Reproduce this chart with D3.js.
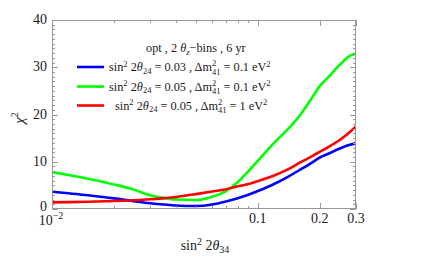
<!DOCTYPE html>
<html><head><meta charset="utf-8">
<script src="https://cdn.jsdelivr.net/npm/d3@7"></script>
<style>body{margin:0;background:#fff} svg{display:block} text{font-family:"Liberation Serif","Times New Roman","DejaVu Serif",serif}</style>
</head><body><svg id="c" width="421" height="264"></svg>
<script>
// data
const sin2_2th34 = [0.01,0.012,0.015,0.02,0.025,0.03,0.035,0.04,0.05,0.06,0.07,0.08,0.09,0.1,0.12,0.14,0.16,0.18,0.2,0.22,0.25,0.28,0.3];
const chi2Blue  = [3.65,3.35,2.9,2.25,1.65,1.2,0.95,0.75,0.62,0.95,1.6,2.3,3.0,3.8,5.3,6.8,8.3,9.6,10.9,11.7,12.8,13.6,13.9];
const chi2Green = [7.8,7.2,6.4,5.2,4.1,2.9,2.3,2.0,1.9,2.6,3.8,5.7,8.0,10.2,14.0,16.9,19.8,23.0,26.0,27.9,30.5,32.4,32.9];
const chi2Red   = [1.4,1.45,1.55,1.7,1.85,2.05,2.3,2.55,3.15,3.7,4.2,4.8,5.3,5.9,7.1,8.4,9.8,11.0,12.1,13.1,14.6,16.3,17.5];
const yMajorTicks = [0,10,20,30,40];
const xMajorTicks = [0.01,0.1,0.2,0.3];
const xTickLabels = ["10","0.1","0.2","0.3"];
const xMinorTicks = [0.02,0.03,0.04,0.05,0.06,0.07,0.08,0.09];
const seriesColors = ["#0000ff","#00ff00","#ff0000"];

const svg = d3.select("#c");
const L=52, R=356, T=20, B=209;
const x = d3.scaleLog().domain([0.01,0.3]).range([L,R]);
const y = d3.scaleLinear().domain([0,40]).range([B,T]);
const frame = "#999";
const txt = "#1a1a1a";

// curves
const line = d3.line().x(d=>x(d[0])).y(d=>y(d[1])).curve(d3.curveMonotoneX);
const series = [chi2Blue, chi2Green, chi2Red];
const g = svg.append("g");
g.append("clipPath").attr("id","clip").append("rect").attr("x",L).attr("y",T).attr("width",R-L).attr("height",B-T);
series.forEach((vals,i)=>{
  g.append("path").datum(sin2_2th34.map((v,j)=>[v,vals[j]]))
   .attr("d",line).attr("fill","none").attr("stroke",seriesColors[i])
   .attr("stroke-width",2.6).attr("clip-path","url(#clip)");
});

// frame
svg.append("rect").attr("x",L+0.5).attr("y",T+0.5).attr("width",R-L-1).attr("height",B-T-1)
  .attr("fill","none").attr("stroke",frame).attr("stroke-width",1);

const ticks = svg.append("g").attr("stroke",frame).attr("stroke-width",1);
// y ticks
d3.range(0,41,1).forEach(v=>{
  const major = v%10===0;
  const len = major?6:3;
  const yy = Math.round(y(v))+0.5;
  ticks.append("line").attr("x1",L).attr("x2",L+len).attr("y1",yy).attr("y2",yy);
  ticks.append("line").attr("x1",R).attr("x2",R-len).attr("y1",yy).attr("y2",yy);
});
// x ticks
xMajorTicks.concat(xMinorTicks).forEach(v=>{
  const major = xMajorTicks.includes(v);
  const len = major?6:3;
  const xx = Math.round(x(v))+0.5;
  ticks.append("line").attr("x1",xx).attr("x2",xx).attr("y1",B).attr("y2",B-len);
  ticks.append("line").attr("x1",xx).attr("x2",xx).attr("y1",T).attr("y2",T+len);
});

// y labels
yMajorTicks.forEach(v=>{
  svg.append("text").attr("x",47).attr("y",y(v)+(v===0?2:4)).attr("text-anchor","end")
    .attr("font-size",14).attr("fill",txt).text(v);
});
// x labels
xMajorTicks.forEach((v,i)=>{
  const t = svg.append("text").attr("x",x(v)).attr("y",223).attr("text-anchor","middle")
    .attr("font-size",14).attr("fill",txt);
  if(i===0){
    t.attr("x",x(v)-1).attr("y",225);
    t.append("tspan").text(xTickLabels[i]);
    t.append("tspan").attr("dy",-6).attr("font-size",10).text("\u22122");
  } else t.text(xTickLabels[i]);
});

// axis titles
const xt = svg.append("text").attr("x",205).attr("y",250).attr("text-anchor","middle").attr("font-size",14).attr("fill",txt);
xt.append("tspan").text("sin");
xt.append("tspan").attr("dy",-5).attr("font-size",10).text("2");
xt.append("tspan").attr("dy",5).text(" 2");
xt.append("tspan").attr("font-style","italic").text("\u03b8");
xt.append("tspan").attr("dy",3).attr("font-size",10).text("34");

const yt = svg.append("text").attr("transform","translate(24,118) rotate(-90)").attr("text-anchor","middle").attr("font-size",15).attr("fill",txt);
yt.append("tspan").attr("font-style","italic").text("\u03c7");
yt.append("tspan").attr("dy",-6).attr("font-size",10).text("2");

// legend
const fs = 12.3;
const ttl = svg.append("text").attr("x",146).attr("y",52).attr("font-size",fs).attr("fill",txt);
ttl.append("tspan").text("opt , 2 ");
ttl.append("tspan").attr("font-style","italic").text("\u03b8");
ttl.append("tspan").attr("dy",2.5).attr("font-size",8.5).attr("font-style","italic").text("z");
ttl.append("tspan").attr("dy",-2.5).text("\u2212bins , 6 yr");

const legendTh24 = ["0.03","0.05","0.05"];
const legendDm = ["0.1","0.1","1"];
const rowY = [67,86.5,105.5];
series.forEach((s,i)=>{
  svg.append("line").attr("x1",77).attr("x2",104).attr("y1",rowY[i]).attr("y2",rowY[i])
    .attr("stroke",seriesColors[i]).attr("stroke-width",2.6);
  const t = svg.append("text").attr("x",i===2?115:109).attr("y",rowY[i]+4).attr("font-size",fs).attr("fill",txt);
  t.append("tspan").text("sin");
  t.append("tspan").attr("dy",-4.5).attr("font-size",8.5).text("2");
  t.append("tspan").attr("dy",4.5).text(" 2");
  t.append("tspan").attr("font-style","italic").text("\u03b8");
  t.append("tspan").attr("dy",2.5).attr("font-size",8.5).text("24");
  t.append("tspan").attr("dy",-2.5).text(" = "+legendTh24[i]+" , \u0394m");
  t.append("tspan").attr("dy",-5).attr("font-size",8.5).text("2");
  t.append("tspan").attr("dy",8.5).attr("dx",-4.3).attr("font-size",8.5).text("41");
  t.append("tspan").attr("dy",-3.5).text(" = "+legendDm[i]+" eV");
  t.append("tspan").attr("dy",-4.5).attr("font-size",8.5).text("2");
});
</script></body></html>
